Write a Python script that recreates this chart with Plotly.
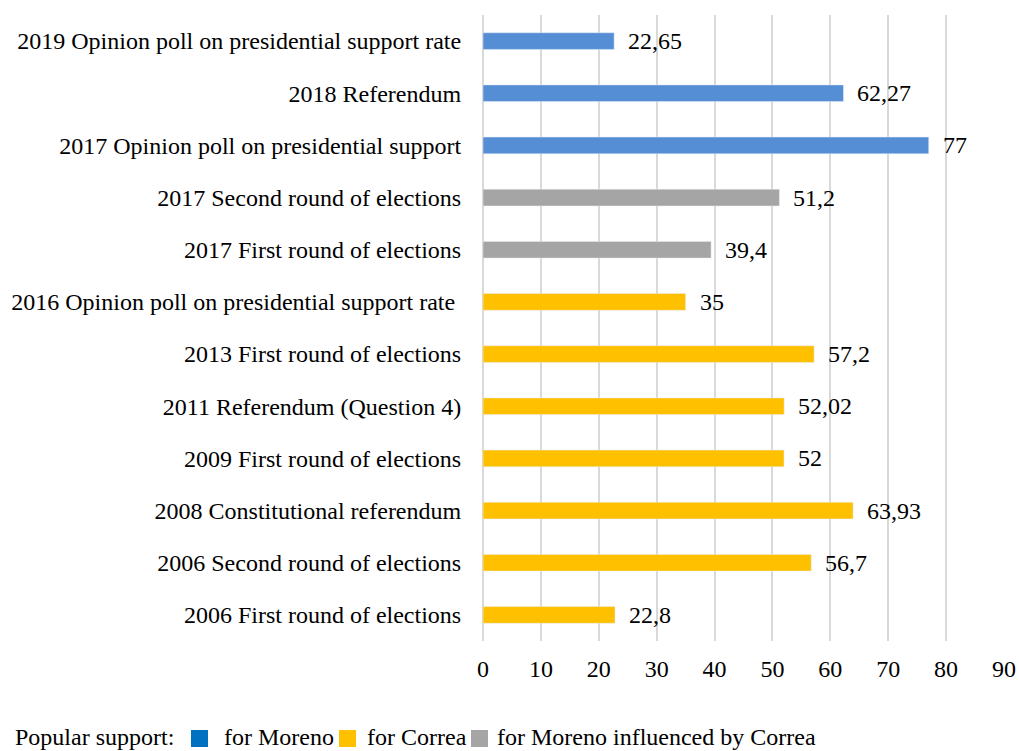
import plotly.graph_objects as go

categories = [
    "2019 Opinion poll on presidential support rate",
    "2018 Referendum",
    "2017 Opinion poll on presidential support",
    "2017 Second round of elections",
    "2017 First round of elections",
    "2016 Opinion poll on presidential support rate ",
    "2013 First round of elections",
    "2011 Referendum (Question 4)",
    "2009 First round of elections",
    "2008 Constitutional referendum",
    "2006 Second round of elections",
    "2006 First round of elections",
]
values = [22.65, 62.27, 77, 51.2, 39.4, 35, 57.2, 52.02, 52, 63.93, 56.7, 22.8]
groups = ["Moreno", "Moreno", "Moreno", "Influenced", "Influenced",
          "Correa", "Correa", "Correa", "Correa", "Correa", "Correa", "Correa"]

group_names = {"Moreno": "for Moreno", "Correa": "for Correa",
               "Influenced": "for Moreno influenced by Correa"}
bar_colors = {"Moreno": "#558ED5", "Correa": "#FFC000", "Influenced": "#A5A5A5"}
legend_colors = {"Moreno": "#0070C0", "Correa": "#FFC000", "Influenced": "#A5A5A5"}
legend_order = ["Moreno", "Correa", "Influenced"]
legend_title = "Popular support:"
x_ticks = [0, 10, 20, 30, 40, 50, 60, 70, 80, 90]

FONT = "Liberation Serif, Times New Roman, serif"
FS = 24

W, H = 1019, 751
ML, MR, MT, MB = 483, 15, 15, 110
PW, PH = W - ML - MR, H - MT - MB


def px_x(p):
    return (p - ML) / PW


def px_y(p):
    return (H - MB - p) / PH


fig = go.Figure()
for g in legend_order:
    ys = [c for c, gg in zip(categories, groups) if gg == g]
    xs = [v for v, gg in zip(values, groups) if gg == g]
    fig.add_trace(go.Bar(
        x=xs, y=ys, orientation="h", marker_color=bar_colors[g],
        width=0.32, showlegend=False, name=group_names[g], hoverinfo="x+y",
    ))


def fmt(v):
    return ("%g" % v).replace(".", ",")


for c, v in zip(categories, values):
    fig.add_annotation(x=v, y=c, text=fmt(v), showarrow=False,
                       xanchor="left", xshift=12,
                       font=dict(size=FS, color="black", family=FONT))

# Custom one-line legend at the bottom
legend_y = 737
fig.add_annotation(xref="paper", yref="paper", x=px_x(14), y=px_y(legend_y),
                   text=legend_title, showarrow=False, xanchor="left",
                   yanchor="middle", borderpad=0,
                   font=dict(size=FS, family=FONT, color="black"))
square_left = {"Moreno": 191, "Correa": 339, "Influenced": 471}
text_left = {"Moreno": 224, "Correa": 367, "Influenced": 497}
for g in legend_order:
    fig.add_shape(type="rect", xref="paper", yref="paper",
                  x0=px_x(square_left[g]), x1=px_x(square_left[g] + 17),
                  y0=px_y(730), y1=px_y(747),
                  fillcolor=legend_colors[g], line=dict(width=0))
    fig.add_annotation(xref="paper", yref="paper", x=px_x(text_left[g] - 1),
                       y=px_y(legend_y), text=group_names[g], showarrow=False,
                       xanchor="left", yanchor="middle", borderpad=0,
                       font=dict(size=FS, family=FONT, color="black"))

fig.update_layout(
    width=W, height=H,
    margin=dict(l=ML, r=MR, t=MT, b=MB, autoexpand=False),
    paper_bgcolor="white", plot_bgcolor="white",
    font=dict(family=FONT, size=FS, color="black"),
    showlegend=False,
    xaxis=dict(range=[0, 90], tickvals=x_ticks, showgrid=True,
               gridcolor="#D9D9D9", gridwidth=1.5, zeroline=True,
               zerolinecolor="#D9D9D9", zerolinewidth=1.5,
               ticks="outside", ticklen=6, tickcolor="rgba(0,0,0,0)",
               showline=False, tickfont=dict(size=FS, family=FONT)),
    yaxis=dict(categoryorder="array", categoryarray=categories,
               autorange="reversed", showgrid=False,
               ticks="outside", ticklen=16, tickcolor="rgba(0,0,0,0)",
               tickfont=dict(size=FS, family=FONT)),
)

fig.write_html("out.html")
